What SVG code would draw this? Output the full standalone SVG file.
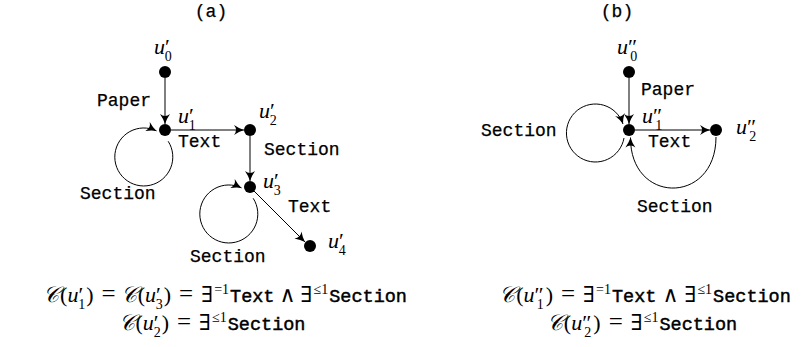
<svg xmlns="http://www.w3.org/2000/svg" width="804" height="347" viewBox="0 0 804 347">
  <style>
    .tt { font-family: "Liberation Mono", "DejaVu Sans Mono", monospace; font-size: 18px; fill: #000; stroke: #000; stroke-width: 0.25px; }
    .ttf { font-family: "Liberation Mono", "DejaVu Sans Mono", monospace; font-size: 18.5px; font-style: normal; stroke: #000; stroke-width: 0.45px; }
    .math { font-family: "Liberation Serif", "DejaVu Serif", serif; font-size: 22px; fill: #000; }
    .it { font-style: italic; }
    .rel { font-size: 25px; }
    .sub { font-size: 14px; font-style: normal; }
    .cal { font-family: "DejaVu Serif", "Noto Sans", serif; font-style: italic; }
    .edge { fill: none; stroke: #000; stroke-width: 1; marker-end: url(#tip); }
    .node { fill: #000; }
  </style>
  <defs>
    <marker id="tip" viewBox="-11 -6 12 12" refX="0" refY="0" markerWidth="12" markerHeight="12" markerUnits="userSpaceOnUse" orient="auto">
      <path d="M0,0 Q-5,-1.5 -10,-5 Q-6,0 -10,5 Q-5,1.5 0,0 Z" fill="#000"/>
    </marker>
  </defs>

  <!-- panel captions -->
  <text class="tt" x="211" y="17" text-anchor="middle">(a)</text>
  <text class="tt" x="617" y="17" text-anchor="middle">(b)</text>

  <!-- connectors -->
  <g id="connectors">
    <!-- panel (a) -->
    <path class="edge" d="M165,78 L165,124"/>
    <path class="edge" d="M171,130 L244,130"/>
    <path class="edge" d="M250,136 L250,181"/>
    <path class="edge" d="M254,191 L305,242"/>
    <path class="edge" d="M168.2,141.3 A29 29 0 1 1 156.5,130.9"/>
    <path class="edge" d="M253.2,198.3 A29 29 0 1 1 241.5,187.9"/>
    <!-- panel (b) -->
    <path class="edge" d="M629,78 L629,124"/>
    <path class="edge" d="M635,130 L710,130"/>
    <path class="edge" d="M624,138 A29 29 0 1 1 623,124"/>
    <path class="edge" d="M716,137 C716,205 630,205 630.5,137.5"/>
  </g>

  <!-- edge labels -->
  <g id="edge-labels">
    <text class="tt" x="97" y="106">Paper</text>
    <text class="tt" x="178" y="147">Text</text>
    <text class="tt" x="264" y="155">Section</text>
    <text class="tt" x="288" y="212">Text</text>
    <text class="tt" x="80" y="199">Section</text>
    <text class="tt" x="190" y="262">Section</text>
    <text class="tt" x="641" y="95">Paper</text>
    <text class="tt" x="648" y="147">Text</text>
    <text class="tt" x="481" y="136">Section</text>
    <text class="tt" x="637" y="212">Section</text>
  </g>

  <!-- panel (a) nodes -->
  <g id="a-u0">
    <circle class="node" cx="165" cy="72" r="6"/>
    <text class="math" x="154" y="54"><tspan class="it">u</tspan>′<tspan class="sub" dx="-5" dy="7">0</tspan></text>
  </g>
  <g id="a-u1">
    <circle class="node" cx="165" cy="130" r="6"/>
    <text class="math" x="178" y="123"><tspan class="it">u</tspan>′<tspan class="sub" dx="-5" dy="7">1</tspan></text>
  </g>
  <g id="a-u2">
    <circle class="node" cx="250" cy="130" r="6"/>
    <text class="math" x="259" y="118"><tspan class="it">u</tspan>′<tspan class="sub" dx="-5" dy="7">2</tspan></text>
  </g>
  <g id="a-u3">
    <circle class="node" cx="250" cy="187" r="6"/>
    <text class="math" x="263" y="188"><tspan class="it">u</tspan>′<tspan class="sub" dx="-5" dy="7">3</tspan></text>
  </g>
  <g id="a-u4">
    <circle class="node" cx="310" cy="246" r="6"/>
    <text class="math" x="328" y="248"><tspan class="it">u</tspan>′<tspan class="sub" dx="-5" dy="7">4</tspan></text>
  </g>

  <!-- panel (b) nodes -->
  <g id="b-u0">
    <circle class="node" cx="629" cy="72" r="6"/>
    <text class="math" x="617" y="54"><tspan class="it">u</tspan>″<tspan class="sub" dx="-7" dy="7">0</tspan></text>
  </g>
  <g id="b-u1">
    <circle class="node" cx="629" cy="130" r="6"/>
    <text class="math" x="642" y="123"><tspan class="it">u</tspan>″<tspan class="sub" dx="-7" dy="7">1</tspan></text>
  </g>
  <g id="b-u2">
    <circle class="node" cx="716" cy="130" r="6"/>
    <text class="math" x="736" y="134"><tspan class="it">u</tspan>″<tspan class="sub" dx="-7" dy="7">2</tspan></text>
  </g>

  <!-- concept formulas -->
  <g id="formulas">
    <text class="math" x="225" y="302" text-anchor="middle"><tspan class="cal">𝒞</tspan><tspan dx="1">(</tspan><tspan class="it">u</tspan><tspan>′</tspan><tspan class="sub" dx="-5" dy="7">1</tspan><tspan dx="1" dy="-7">)</tspan><tspan class="rel" dx="8">=</tspan><tspan class="cal" dx="5">𝒞</tspan><tspan dx="1">(</tspan><tspan class="it">u</tspan><tspan>′</tspan><tspan class="sub" dx="-5" dy="7">3</tspan><tspan dx="1" dy="-7">)</tspan><tspan class="rel" dx="8">=</tspan><tspan dx="8">∃</tspan><tspan class="sub" dx="1" dy="-8">=1</tspan><tspan class="ttf" dx="1" dy="8">Text</tspan><tspan dx="5">∧</tspan><tspan dx="5">∃</tspan><tspan class="sub" dx="1" dy="-8">≤1</tspan><tspan class="ttf" dx="1" dy="8">Section</tspan></text>
    <text class="math" x="212" y="330" text-anchor="middle"><tspan class="cal">𝒞</tspan><tspan dx="1">(</tspan><tspan class="it">u</tspan><tspan>′</tspan><tspan class="sub" dx="-5" dy="7">2</tspan><tspan dx="1" dy="-7">)</tspan><tspan class="rel" dx="8">=</tspan><tspan dx="8">∃</tspan><tspan class="sub" dx="1" dy="-8">≤1</tspan><tspan class="ttf" dx="1" dy="8">Section</tspan></text>
    <text class="math" x="645" y="302" text-anchor="middle"><tspan class="cal">𝒞</tspan><tspan dx="1">(</tspan><tspan class="it">u</tspan><tspan>″</tspan><tspan class="sub" dx="-7" dy="7">1</tspan><tspan dx="2" dy="-7">)</tspan><tspan class="rel" dx="8">=</tspan><tspan dx="8">∃</tspan><tspan class="sub" dx="1" dy="-8">=1</tspan><tspan class="ttf" dx="1" dy="8">Text</tspan><tspan dx="6">∧</tspan><tspan dx="6">∃</tspan><tspan class="sub" dx="1" dy="-8">≤1</tspan><tspan class="ttf" dx="1" dy="8">Section</tspan></text>
    <text class="math" x="642" y="330" text-anchor="middle"><tspan class="cal">𝒞</tspan><tspan dx="1">(</tspan><tspan class="it">u</tspan><tspan>″</tspan><tspan class="sub" dx="-7" dy="7">2</tspan><tspan dx="2" dy="-7">)</tspan><tspan class="rel" dx="8">=</tspan><tspan dx="8">∃</tspan><tspan class="sub" dx="1" dy="-8">≤1</tspan><tspan class="ttf" dx="1" dy="8">Section</tspan></text>
  </g>
</svg>
